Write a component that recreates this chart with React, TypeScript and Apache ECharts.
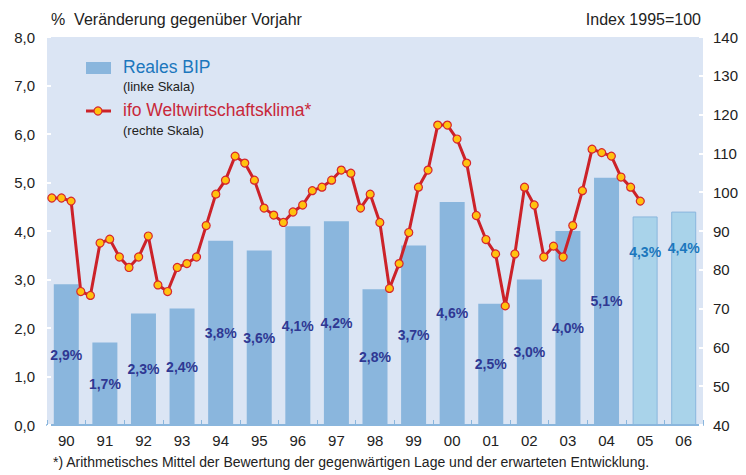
import React, { useEffect, useRef } from "react";
import * as echarts from "echarts";

const years = ["90", "91", "92", "93", "94", "95", "96", "97", "98", "99", "00", "01", "02", "03", "04", "05", "06"];
const gdpGrowth = [2.9, 1.7, 2.3, 2.4, 3.8, 3.6, 4.1, 4.2, 2.8, 3.7, 4.6, 2.5, 3.0, 4.0, 5.1, 4.3, 4.4];
const forecastYears = ["05", "06"];
const quarters = years.flatMap((y) => ["Q1", "Q2", "Q3", "Q4"].map((q) => y + q));
const ifoClimate = [
  98.5, 98.5, 97.7, 74.4,
  73.4, 86.9, 87.9, 83.3,
  80.6, 83.3, 88.7, 76.1,
  74.4, 80.6, 81.6, 83.3,
  91.4, 99.5, 103.1, 109.3,
  107.5, 103.1, 95.9, 94.1,
  92.2, 94.9, 96.7, 100.4,
  101.3, 103.1, 105.7, 104.9,
  95.9, 99.5, 92.2, 75.2,
  81.6, 89.6, 101.3, 105.7,
  117.3, 117.3, 113.7, 107.5,
  94.0, 87.8, 84.1, 70.7,
  84.1, 101.3, 96.7, 83.3,
  86.1, 83.3, 91.4, 100.4,
  111.1, 110.2, 109.3, 103.9,
  101.3, 97.7,
];
const leftTicks = { min: 0, max: 8, interval: 1 };
const rightTicks = { min: 40, max: 140, interval: 10 };

const FONT = "'Liberation Sans', Arial, sans-serif";
const fmt = (v: number, d: number) => v.toFixed(d).replace(".", ",");

export default function App() {
  const ref = useRef<HTMLDivElement>(null);
  useEffect(() => {
    if (!ref.current) return;
    const chart = echarts.init(ref.current, undefined, { renderer: "svg" });
    const barData = gdpGrowth.map((v, i) => {
      const forecast = forecastYears.includes(years[i]);
      if (!forecast) return { value: v };
      return {
        value: v,
        itemStyle: { color: "#a9d3ea", borderColor: "#8ab6dd", borderWidth: 1 },
        label: { position: "insideTop", distance: 29, color: "#1b77bd" },
      };
    });
    chart.setOption({
      animation: false,
      textStyle: { fontFamily: FONT },
      grid: { left: 47, right: 43, top: 37, bottom: 50, show: true, backgroundColor: "#dbe5f4", borderWidth: 0 },
      xAxis: [
        {
          type: "category",
          data: years,
          axisLine: { lineStyle: { color: "#8ab6dd", width: 2 } },
          axisTick: { show: true, inside: true, length: 5, lineStyle: { color: "#8ab6dd", width: 1 } },
          axisLabel: { color: "#222", fontSize: 15, margin: 8, fontFamily: FONT },
        },
        {
          type: "category",
          data: quarters,
          show: false,
          boundaryGap: true,
        },
      ],
      yAxis: [
        {
          type: "value",
          ...leftTicks,
          position: "left",
          axisLine: { show: false },
          axisTick: { show: true, inside: true, length: 4, lineStyle: { color: "#ffffff", width: 2 } },
          splitLine: { show: false },
          axisLabel: { color: "#222", fontSize: 15, margin: 12, fontFamily: FONT, formatter: (v: number) => fmt(v, 1) },
        },
        {
          type: "value",
          ...rightTicks,
          position: "right",
          axisLine: { show: false },
          axisTick: { show: true, inside: true, length: 4, lineStyle: { color: "#ffffff", width: 2 } },
          splitLine: { show: false },
          axisLabel: { color: "#222", fontSize: 15, margin: 10, fontFamily: FONT },
        },
      ],
      series: [
        {
          type: "bar",
          xAxisIndex: 0,
          yAxisIndex: 0,
          data: barData,
          barWidth: 25,
          itemStyle: { color: "#8ab6dd" },
          label: {
            show: true,
            position: "inside",
            color: "#2f3893",
            fontWeight: "bold",
            fontSize: 14,
            fontFamily: FONT,
            formatter: (p: any) => fmt(p.value, 1) + "%",
          },
          z: 2,
        },
        {
          type: "line",
          xAxisIndex: 1,
          yAxisIndex: 1,
          data: ifoClimate,
          symbol: "circle",
          symbolSize: 8,
          showAllSymbol: true,
          lineStyle: { color: "#cc2229", width: 3 },
          itemStyle: { color: "#ffc20e", borderColor: "#d7262c", borderWidth: 1.2 },
          z: 5,
        },
      ],
      graphic: [
        { type: "text", left: 51, top: 11, style: { text: "%  Veränderung gegenüber Vorjahr", font: `16px ${FONT}`, fill: "#222" } },
        { type: "text", right: 45, top: 11, style: { text: "Index 1995=100", font: `16px ${FONT}`, fill: "#222" } },
        { type: "rect", shape: { x: 86, y: 62, width: 25, height: 12 }, style: { fill: "#8ab6dd" } },
        { type: "text", left: 123, top: 58, style: { text: "Reales BIP", font: `17.5px ${FONT}`, fill: "#1b77bd" } },
        { type: "text", left: 123, top: 80, style: { text: "(linke Skala)", font: `13px ${FONT}`, fill: "#222" } },
        { type: "line", shape: { x1: 86, y1: 111, x2: 111, y2: 111 }, style: { stroke: "#cc2229", lineWidth: 3 } },
        { type: "circle", shape: { cx: 98, cy: 111, r: 4 }, style: { fill: "#ffc20e", stroke: "#d7262c", lineWidth: 1.2 } },
        { type: "text", left: 123, top: 101, style: { text: "ifo Weltwirtschaftsklima*", font: `17.5px ${FONT}`, fill: "#c8283a" } },
        { type: "text", left: 123, top: 124, style: { text: "(rechte Skala)", font: `13px ${FONT}`, fill: "#222" } },
        {
          type: "text",
          left: 53,
          top: 455,
          style: { text: "*) Arithmetisches Mittel der Bewertung der gegenwärtigen Lage und der erwarteten Entwicklung.", font: `14px ${FONT}`, fill: "#222" },
        },
      ],
    });
    return () => chart.dispose();
  }, []);
  return <div ref={ref} style={{ width: 746, height: 475, position: "absolute", left: 0, top: 0 }} />;
}
